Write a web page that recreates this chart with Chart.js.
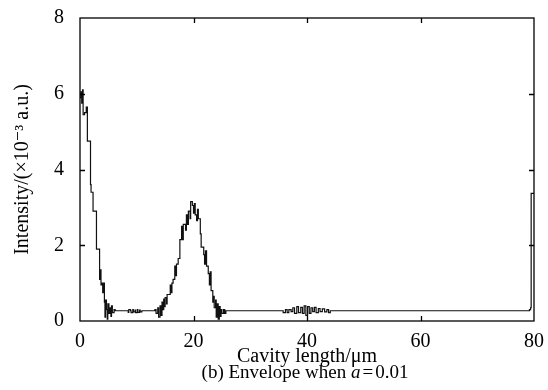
<!DOCTYPE html>
<html>
<head>
<meta charset="utf-8">
<script src="https://cdn.jsdelivr.net/npm/chart.js@4.4.1/dist/chart.umd.min.js"></script>
<style>
  html, body { margin: 0; padding: 0; background: #fff; }
  #wrap { width: 548px; height: 390px; position: relative; }
</style>
</head>
<body>
<div id="wrap"><canvas id="envelope_chart"></canvas></div>
<script>
// cavity length (um) where each step starts, and intensity (x1e-3 a.u.) held until the next one
const cavityLength = [
    0.0, 0.15, 0.3, 0.45, 0.55, 0.8, 1.1, 1.3, 1.85, 1.95, 2.3, 2.9, 3.45, 3.6, 3.7, 3.8,
    4.0, 4.1, 4.3, 4.4, 4.5, 4.65, 4.8, 4.9, 5.1, 5.3, 5.45, 5.55, 5.7, 6.0, 6.2,
    8.5, 8.6, 8.9, 9.0, 9.3, 9.4, 9.7, 9.8, 10.1, 10.2, 10.5, 10.6, 10.9,
    13.2, 13.4, 13.7, 13.85, 14.1, 14.25, 14.45, 14.6, 14.75, 14.9,
    15.0, 15.25, 15.35, 15.9, 16.1, 16.2, 16.4, 16.7, 16.9, 17.0, 17.3, 17.6, 17.9, 18.1,
    18.2, 18.6, 18.75, 18.95, 19.1, 19.4, 19.5, 19.8, 20.0, 20.15, 20.3, 20.55, 20.7, 20.85,
    21.2, 21.35, 21.8, 21.95, 22.1, 22.3, 22.6, 22.8, 22.95, 23.1, 23.4, 23.5, 23.65, 23.9,
    24.0, 24.2, 24.35, 24.55, 24.7, 24.85, 25.0, 25.3, 25.5, 25.7,
    35.8, 36.2, 36.5, 36.8, 37.2, 37.5, 37.8, 38.2, 38.5, 38.9, 39.2, 39.5, 39.8,
    40.1, 40.4, 40.7, 41.0, 41.3, 41.6, 42.0, 42.3, 42.7, 43.1, 43.5, 43.8, 44.1,
    79.2, 79.4, 79.5, 80.0
];
const intensity = [
    5.9, 6.05, 5.75, 6.1, 5.45, 5.5, 5.65, 4.75, 3.6, 3.4, 2.9, 1.9, 1.1, 1.35, 0.95, 1.0,
    0.75, 1.0, 0.5, 0.1, 0.55, 0.3, 0.05, 0.45, 0.2, 0.35, 0.12, 0.4, 0.22, 0.3, 0.27,
    0.23, 0.3, 0.27, 0.22, 0.3, 0.24, 0.29, 0.22, 0.3, 0.23, 0.29, 0.24, 0.27,
    0.3, 0.2, 0.35, 0.1, 0.4, 0.15, 0.5, 0.3, 0.58, 0.38,
    0.62, 0.45, 0.7, 0.95, 0.75, 1.0, 1.1, 1.45, 1.2, 1.5, 1.65, 2.15, 2.5, 2.15,
    2.55, 2.4, 2.8, 2.55, 2.9, 2.7, 3.15, 3.05, 2.85, 3.1, 2.8, 2.65, 2.95, 2.7,
    2.3, 1.95, 1.75, 1.5, 1.85, 1.45, 1.25, 0.95, 1.3, 0.8, 0.5, 0.65, 0.35, 0.55,
    0.1, 0.45, 0.05, 0.38, 0.12, 0.3, 0.2, 0.3, 0.2, 0.27,
    0.22, 0.3, 0.22, 0.3, 0.25, 0.35, 0.2, 0.38, 0.22, 0.36, 0.2, 0.4, 0.15,
    0.38, 0.2, 0.35, 0.25, 0.36, 0.22, 0.33, 0.25, 0.32, 0.24, 0.3, 0.22, 0.27,
    0.3, 0.35, 3.37, 3.37
];
const xTicks = [0, 20, 40, 60, 80];
const yTicks = [0, 2, 4, 6, 8];

const serif = "'Liberation Serif', 'DejaVu Serif', serif";

// frame with inward ticks on all four sides, like the original plot
const framePlugin = {
    id: 'frame',
    afterDatasetsDraw(chart) {
        const { ctx, chartArea: a, scales: { x, y } } = chart;
        const tl = 5;
        ctx.save();
        ctx.strokeStyle = '#000';
        ctx.lineWidth = 1.3;
        ctx.strokeRect(a.left, a.top, a.right - a.left, a.bottom - a.top);
        ctx.beginPath();
        xTicks.slice(1, -1).forEach(v => {
            const px = Math.round(x.getPixelForValue(v)) + 0.5;
            ctx.moveTo(px, a.bottom); ctx.lineTo(px, a.bottom - tl);
            ctx.moveTo(px, a.top); ctx.lineTo(px, a.top + tl);
        });
        yTicks.slice(1, -1).forEach(v => {
            const py = Math.round(y.getPixelForValue(v)) + 0.5;
            ctx.moveTo(a.left, py); ctx.lineTo(a.left + tl, py);
            ctx.moveTo(a.right, py); ctx.lineTo(a.right - tl, py);
        });
        ctx.stroke();
        ctx.restore();
    }
};

// caption under the axis title, with the italic "a"
const captionPlugin = {
    id: 'caption',
    afterDraw(chart) {
        const ctx = chart.ctx;
        const parts = [
            { t: '(b) Envelope when ', f: '19px ' + serif, gap: 0 },
            { t: 'a', f: 'italic 19px ' + serif, gap: 2 },
            { t: '=', f: '19px ' + serif, gap: 2 },
            { t: '0.01', f: '19px ' + serif, gap: 0 }
        ];
        ctx.save();
        let total = 0;
        parts.forEach(p => { ctx.font = p.f; p.w = ctx.measureText(p.t).width; total += p.w + p.gap; });
        let xPos = 305 - total / 2;
        ctx.fillStyle = '#000';
        ctx.textBaseline = 'alphabetic';
        ctx.textAlign = 'left';
        parts.forEach(p => {
            ctx.font = p.f;
            ctx.fillText(p.t, xPos, 378);
            xPos += p.w + p.gap;
        });
        ctx.restore();
    }
};

const ctx = document.getElementById('envelope_chart').getContext('2d');
const points = cavityLength.map((v, i) => ({ x: v, y: intensity[i] }));

new Chart(ctx, {
    type: 'line',
    data: {
        datasets: [{
            data: points,
            borderColor: '#111',
            borderWidth: 1.2,
            pointRadius: 0,
            stepped: 'before',
            fill: false
        }]
    },
    options: {
        responsive: true,
        maintainAspectRatio: false,
        animation: false,
        layout: { padding: { top: 18, right: 14, left: 0, bottom: 0 } },
        plugins: { legend: { display: false }, tooltip: { enabled: false } },
        scales: {
            x: {
                type: 'linear', min: 0, max: 80,
                afterFit: s => { s.height = 69; s.paddingLeft = 0; s.paddingRight = 0; },
                afterBuildTicks: s => { s.ticks = xTicks.map(v => ({ value: v })); },
                grid: { display: false }, border: { display: false },
                ticks: { color: '#000', padding: 1, maxRotation: 0, font: { family: serif, size: 20 } },
                title: { display: true, text: 'Cavity length/μm', color: '#000',
                    padding: { top: 0, bottom: 21 }, font: { family: serif, size: 20 } }
            },
            y: {
                min: 0, max: 8,
                afterFit: s => { s.width = 80; s.paddingTop = 0; s.paddingBottom = 0; },
                afterBuildTicks: s => { s.ticks = yTicks.map(v => ({ value: v })); },
                grid: { display: false }, border: { display: false },
                ticks: { color: '#000', padding: 8, font: { family: serif, size: 20 } },
                title: { display: true, text: 'Intensity/(×10⁻³ a.u.)', color: '#000',
                    padding: { top: 11, bottom: 0 }, font: { family: serif, size: 20 } }
            }
        }
    },
    plugins: [framePlugin, captionPlugin]
});
</script>
</body>
</html>
